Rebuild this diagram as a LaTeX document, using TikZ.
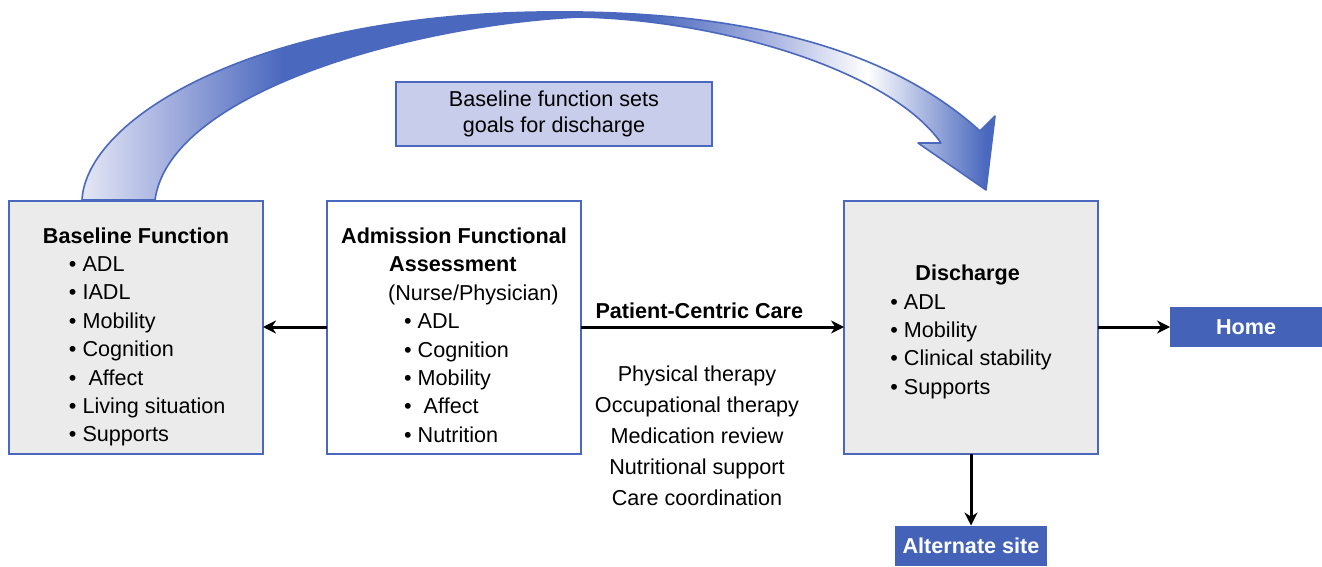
\documentclass[tikz,border=0pt]{standalone}
\usepackage{fontspec}
\setmainfont{Liberation Sans}
\usetikzlibrary{arrows.meta, positioning}

\definecolor{edgeblue}{HTML}{4A68BE}
\definecolor{tagblue}{HTML}{4362B8}
\definecolor{boxgray}{HTML}{EBEBEB}
\definecolor{goalfill}{HTML}{C8CDEB}
\definecolor{bandlight}{HTML}{E4E7F5}
\definecolor{bandmid}{HTML}{AEB8E2}

% colour runs along the ribbon: pale at the foot, blue over the top, pale again before the head
\pgfdeclarehorizontalshading{goalband}{100bp}{color(0bp)=(bandlight); color(25bp)=(bandlight);
  color(29bp)=(bandmid); color(36bp)=(edgeblue); color(56bp)=(edgeblue); color(63bp)=(bandmid);
  color(68bp)=(white); color(74.5bp)=(edgeblue); color(100bp)=(edgeblue)}

\newcommand{\bodyfont}{\fontsize{10.8}{14.2}\selectfont}

\begin{document}
\begin{tikzpicture}[x=0.5pt, y=-0.5pt, node distance=36pt,
  every node/.style={font=\bodyfont},
  box/.style={draw=edgeblue, line width=1pt, fill=boxgray, minimum width=127pt,
    minimum height=126.5pt, inner sep=0pt, outer sep=0pt, align=left},
  tag/.style={fill=tagblue, text=white, font=\bodyfont\bfseries, minimum width=76pt,
    minimum height=20pt, inner sep=0pt, outer sep=0pt},
  flow/.style={-{Stealth[length=6.5pt, width=6.5pt]}, line width=1.5pt}]
  \useasboundingbox (0,0) rectangle (1322,567);

  % ribbon arrow from the baseline box over to discharge
  \path[draw=edgeblue, line width=0.8pt, line join=round, shading=goalband]
    (82,200) .. controls (86,120) and (250,16) .. (540,12)
    .. controls (720,9.5) and (880,40) .. (980,131)
    -- (995,116) -- (986,190) -- (918,143) -- (941,143)
    .. controls (890,70) and (720,20) .. (580,17)
    .. controls (420,24) and (170,90) .. (155,200) -- cycle;

  \node[draw=edgeblue, line width=1pt, fill=goalfill, minimum width=158pt, minimum height=32pt,
    align=center, font=\fontsize{10.8}{13}\selectfont] (goal) at (554,114)
    {Baseline function sets\\goals for discharge};

  % the struts in the first lines sit the lists a little below the box centre
  \node[box, fill=white] (assess) at (454,327)
    {\rule{0pt}{16pt}\textbf{Admission Functional}\\
     \hspace*{24pt}\textbf{Assessment}\\
     \hspace*{23.5pt}(Nurse/Physician)\\
     \hspace*{31.5pt}\textbullet~ADL\\
     \hspace*{31.5pt}\textbullet~Cognition\\
     \hspace*{31.5pt}\textbullet~Mobility\\
     \hspace*{31.5pt}\textbullet~~Affect\\
     \hspace*{31.5pt}\textbullet~Nutrition};
  \node[box, left=32pt of assess] (baseline)
    {\rule{0pt}{17.8pt}\textbf{Baseline Function}\\
     \hspace*{13pt}\textbullet~ADL\\
     \hspace*{13pt}\textbullet~IADL\\
     \hspace*{13pt}\textbullet~Mobility\\
     \hspace*{13pt}\textbullet~Cognition\\
     \hspace*{13pt}\textbullet~~Affect\\
     \hspace*{13pt}\textbullet~Living situation\\
     \hspace*{13pt}\textbullet~Supports};
  \node[box, right=131.5pt of assess] (discharge)
    {\rule{0pt}{12.8pt}\hspace*{12.5pt}\textbf{Discharge}\\
     \textbullet~ADL\\
     \textbullet~Mobility\\
     \textbullet~Clinical stability\\
     \textbullet~Supports};
  \node[tag, right=of discharge] (home) {Home};
  \node[tag, below=of discharge] (alt) {Alternate site};

  \draw[flow] (assess) -- (baseline);
  \draw[flow] (assess) -- node[above, pos=0.45, font=\bodyfont\bfseries] {Patient-Centric Care} (discharge);
  \draw[flow] (discharge) -- (home);
  \draw[flow] (discharge) -- (alt);

  \node[align=center, font=\fontsize{10.8}{15.5}\selectfont] (care) at (697,436)
    {Physical therapy\\Occupational therapy\\Medication review\\Nutritional support\\Care coordination};
\end{tikzpicture}
\end{document}
